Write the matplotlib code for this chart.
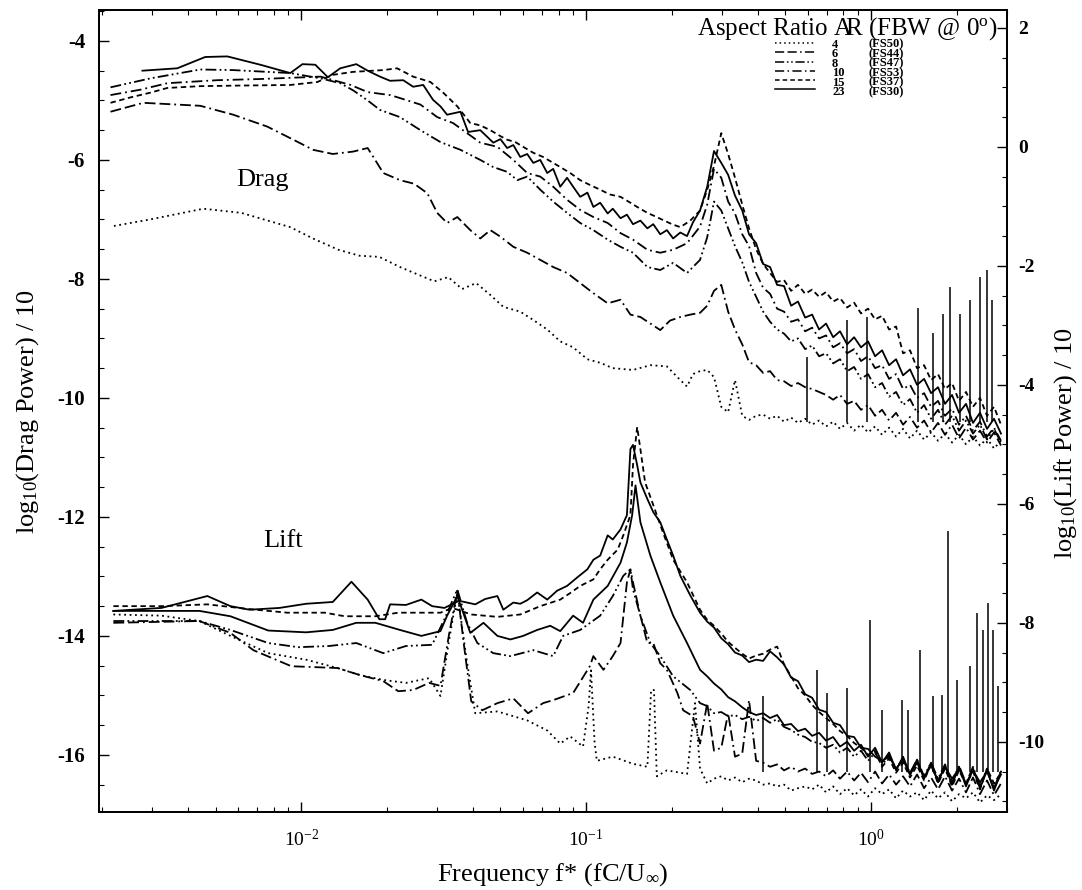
import matplotlib
matplotlib.use("Agg")
import matplotlib.pyplot as plt
from matplotlib.lines import Line2D
from matplotlib.ticker import LogLocator, MultipleLocator, NullFormatter
import numpy as np

plt.rcParams['font.family'] = ['Liberation Serif', 'DejaVu Serif']
plt.rcParams['mathtext.fontset'] = 'custom'
plt.rcParams['mathtext.rm'] = 'Liberation Serif'
plt.rcParams['mathtext.it'] = 'Liberation Serif:italic'
plt.rcParams['mathtext.bf'] = 'Liberation Serif:bold'
plt.rcParams['axes.unicode_minus'] = False

# common high-frequency grid f* (fC/U_inf) shared by all spectra above f* ~ 0.25
tail_f = [0.251, 0.266, 0.281, 0.298, 0.315, 0.333, 0.353, 0.373, 0.395, 0.418, 0.442,
          0.468, 0.495, 0.524, 0.554, 0.587, 0.621, 0.657, 0.695, 0.736, 0.778, 0.824,
          0.872, 0.922, 0.976, 1.033, 1.093, 1.157, 1.224, 1.295, 1.370, 1.450, 1.535,
          1.624, 1.718, 1.818, 1.924, 2.036, 2.154, 2.279, 2.412, 2.553, 2.701, 2.858]

ar_labels = ["4", "6", "8", "10", "15", "23"]
fs_labels = ["(FS50)", "(FS44)", "(FS47)", "(FS53)", "(FS37)", "(FS30)"]

# ---- drag spectra, log10(P)/10 (left axis) ----
drag_f_4 = [0.00220, 0.00295, 0.00453, 0.00616, 0.00915, 0.0111, 0.0135, 0.0160, 0.0188, 0.0222,
            0.0249, 0.0293, 0.0328, 0.0367, 0.0411, 0.0461, 0.0512, 0.0587, 0.0652, 0.0730,
            0.0811, 0.0900, 0.101, 0.112, 0.124, 0.146, 0.168, 0.192, 0.214, 0.226, 0.237]
drag_v_4 = [-7.11, -7.00, -6.82, -6.89, -7.13, -7.33, -7.51, -7.61, -7.63, -7.80,
            -7.90, -8.04, -7.97, -8.17, -8.07, -8.27, -8.47, -8.55, -8.69, -8.85,
            -9.05, -9.15, -9.35, -9.41, -9.50, -9.53, -9.45, -9.47, -9.70, -9.81, -9.60]
drag_tail_4 = [-9.55, -9.53, -9.65, -10.15, -10.24, -9.70, -10.30, -10.37, -10.30, -10.28, -10.35,
               -10.30, -10.40, -10.33, -10.42, -10.35, -10.45, -10.38, -10.48, -10.40, -10.52, -10.42,
               -10.55, -10.45, -10.58, -10.48, -10.62, -10.50, -10.65, -10.52, -10.68, -10.55, -10.70,
               -10.58, -10.72, -10.60, -10.75, -10.62, -10.78, -10.65, -10.80, -10.68, -10.85, -10.72]

drag_f_6 = [0.00214, 0.00279, 0.00442, 0.00577, 0.00760, 0.00938, 0.0110, 0.0129, 0.0152, 0.0171,
            0.0179, 0.0194, 0.0222, 0.0249, 0.0277, 0.0300, 0.0325, 0.0353, 0.0392, 0.0425,
            0.0461, 0.0500, 0.0555, 0.0621, 0.0690, 0.0766, 0.0857, 0.0953, 0.106, 0.119,
            0.132, 0.143, 0.155, 0.168, 0.182, 0.197, 0.214, 0.232]
drag_v_6 = [-5.19, -5.04, -5.09, -5.24, -5.44, -5.66, -5.83, -5.90, -5.86, -5.80,
            -5.95, -6.22, -6.34, -6.40, -6.56, -6.89, -7.06, -6.96, -7.18, -7.32,
            -7.18, -7.29, -7.46, -7.56, -7.68, -7.80, -7.90, -8.07, -8.24, -8.41,
            -8.35, -8.60, -8.64, -8.75, -8.86, -8.70, -8.64, -8.60]
drag_tail_6 = [-8.57, -8.45, -8.20, -8.10, -8.55, -8.85, -9.10, -9.40, -9.45, -9.58, -9.55,
               -9.70, -9.72, -9.80, -9.75, -9.82, -9.85, -9.90, -9.95, -10.03, -9.95, -10.10,
               -10.05, -10.20, -10.12, -10.30, -10.20, -10.38, -10.25, -10.45, -10.32, -10.50, -10.38,
               -10.58, -10.42, -10.62, -10.45, -10.68, -10.50, -10.70, -10.55, -10.75, -10.58, -10.80]

drag_f_8 = [0.00214, 0.00295, 0.00442, 0.00577, 0.00915, 0.0117, 0.0137, 0.0152, 0.0171, 0.0189,
            0.0222, 0.0262, 0.0308, 0.0362, 0.0425, 0.0472, 0.0528, 0.0573, 0.0621, 0.0690,
            0.0766, 0.0857, 0.0953, 0.106, 0.119, 0.132, 0.146, 0.164, 0.182, 0.202, 0.226]
drag_v_8 = [-4.78, -4.63, -4.48, -4.49, -4.54, -4.63, -4.71, -4.83, -5.00, -5.16,
            -5.28, -5.50, -5.70, -5.83, -6.00, -6.12, -6.20, -6.34, -6.28, -6.50,
            -6.70, -6.89, -7.06, -7.18, -7.34, -7.46, -7.56, -7.80, -7.85, -7.73, -7.90]
drag_tail_8 = [-7.68, -7.30, -6.70, -6.85, -7.15, -7.45, -7.72, -8.05, -8.30, -8.55, -8.72,
               -8.85, -8.92, -9.05, -9.00, -9.18, -9.12, -9.30, -9.25, -9.42, -9.35, -9.55,
               -9.48, -9.68, -9.60, -9.82, -9.75, -9.98, -9.90, -10.12, -10.02, -10.25, -10.12,
               -10.35, -10.20, -10.45, -10.30, -10.55, -10.38, -10.60, -10.45, -10.70, -10.52, -10.75]

drag_f_10 = [0.00214, 0.00272, 0.00339, 0.00507, 0.00718, 0.00915, 0.0117, 0.0149, 0.0171, 0.0205,
             0.0222, 0.0262, 0.0300, 0.0341, 0.0382, 0.0425, 0.0488, 0.0555, 0.0621, 0.0690,
             0.0766, 0.0857, 0.0953, 0.106, 0.119, 0.132, 0.146, 0.164, 0.182, 0.202, 0.226]
drag_v_10 = [-4.91, -4.82, -4.71, -4.66, -4.64, -4.62, -4.60, -4.74, -4.86, -4.91,
             -4.96, -5.07, -5.28, -5.38, -5.55, -5.71, -5.78, -6.00, -6.22, -6.28,
             -6.45, -6.67, -6.84, -6.96, -7.06, -7.23, -7.34, -7.51, -7.56, -7.51, -7.40]
drag_tail_10 = [-7.12, -6.75, -6.15, -6.30, -6.70, -6.90, -7.25, -7.45, -7.90, -8.15, -8.25,
                -8.50, -8.55, -8.72, -8.68, -8.88, -8.82, -9.00, -8.95, -9.15, -9.08, -9.25,
                -9.18, -9.38, -9.30, -9.50, -9.45, -9.68, -9.60, -9.85, -9.78, -10.00, -9.92,
                -10.15, -10.05, -10.30, -10.18, -10.45, -10.30, -10.55, -10.40, -10.65, -10.50, -10.72]

drag_f_15 = [0.00214, 0.00251, 0.00295, 0.00339, 0.00442, 0.00611, 0.00915, 0.0114, 0.0129, 0.0152,
             0.0194, 0.0217, 0.0247, 0.0284, 0.0315, 0.0353, 0.0392, 0.0425, 0.0461, 0.0500,
             0.0528, 0.0564, 0.0601, 0.0652, 0.0706, 0.0766, 0.0811, 0.0879, 0.0953, 0.103,
             0.112, 0.121, 0.132, 0.143, 0.151, 0.164, 0.175, 0.186, 0.200, 0.214, 0.232]
drag_v_15 = [-5.04, -4.95, -4.87, -4.79, -4.76, -4.75, -4.74, -4.69, -4.57, -4.52,
             -4.49, -4.46, -4.60, -4.69, -4.87, -5.10, -5.38, -5.42, -5.50, -5.60,
             -5.66, -5.70, -5.78, -5.88, -5.95, -6.05, -6.12, -6.22, -6.34, -6.42,
             -6.50, -6.58, -6.62, -6.72, -6.79, -6.89, -6.95, -7.01, -7.08, -7.13, -7.02]
drag_tail_15 = [-6.85, -6.50, -6.10, -5.55, -5.90, -6.30, -6.75, -7.15, -7.50, -7.75, -7.90,
                -8.05, -8.02, -8.20, -8.10, -8.25, -8.18, -8.30, -8.22, -8.38, -8.32, -8.48,
                -8.40, -8.58, -8.50, -8.68, -8.62, -8.85, -8.80, -9.25, -9.20, -9.50, -9.45,
                -9.70, -9.60, -9.85, -9.75, -10.05, -9.90, -10.15, -10.00, -10.30, -10.15, -10.45]

drag_f_23 = [0.00277, 0.00367, 0.00460, 0.00550, 0.00718, 0.00915, 0.0101, 0.0112, 0.0124, 0.0137,
             0.0156, 0.0171, 0.0189, 0.0205, 0.0228, 0.0247, 0.0268, 0.0290, 0.0308, 0.0325,
             0.0362, 0.0385, 0.0425, 0.0472, 0.0500, 0.0528, 0.0555, 0.0587, 0.0621, 0.0652,
             0.0690, 0.0730, 0.0766, 0.0811, 0.0857, 0.0900, 0.0953, 0.101, 0.106, 0.112,
             0.119, 0.124, 0.132, 0.139, 0.146, 0.155, 0.164, 0.172, 0.182, 0.192,
             0.202, 0.214, 0.226, 0.237]
drag_v_23 = [-4.50, -4.46, -4.27, -4.26, -4.40, -4.54, -4.39, -4.40, -4.61, -4.46,
             -4.39, -4.50, -4.60, -4.67, -4.66, -4.77, -4.74, -4.99, -5.10, -5.24,
             -5.19, -5.53, -5.50, -5.71, -5.65, -5.80, -5.75, -5.95, -5.90, -6.05,
             -6.00, -6.22, -6.15, -6.45, -6.30, -6.45, -6.62, -6.55, -6.79, -6.72,
             -6.90, -6.82, -6.98, -6.92, -7.08, -7.02, -7.15, -7.08, -7.25, -7.18,
             -7.32, -7.22, -7.28, -7.05]
drag_tail_23 = [-6.85, -6.45, -5.85, -6.05, -6.25, -6.60, -6.85, -7.25, -7.40, -7.75, -7.80,
                -8.10, -8.12, -8.45, -8.38, -8.65, -8.60, -8.85, -8.75, -8.98, -8.88, -9.10,
                -8.98, -9.15, -9.05, -9.30, -9.20, -9.45, -9.35, -9.62, -9.52, -9.78, -9.68,
                -9.92, -9.82, -10.10, -9.95, -10.25, -10.10, -10.42, -10.25, -10.52, -10.35, -10.60]

# narrow spikes in the drag spectra at high frequency
drag_spike_f = [0.596, 0.824, 0.968, 1.462, 1.650, 1.789, 1.893, 2.050, 2.225, 2.412, 2.553, 2.658]
drag_spike_top = [-9.31, -8.69, -8.64, -8.49, -8.91, -8.59, -8.13, -8.59, -8.35, -7.97, -7.85, -8.35]
drag_spike_base = -10.4

# ---- lift spectra, log10(P)/10 (right axis) ----
lift_f_4 = [0.00219, 0.00323, 0.00439, 0.00564, 0.00766, 0.0104, 0.0134, 0.0161, 0.0194, 0.0233,
            0.0281, 0.0308, 0.0330, 0.0353, 0.0380, 0.0408, 0.0488, 0.0555, 0.0621, 0.0730,
            0.0811, 0.0879, 0.0975, 0.102, 0.104, 0.107, 0.109, 0.124, 0.146, 0.164,
            0.169, 0.173, 0.177, 0.192, 0.226, 0.241]
lift_v_4 = [-7.86, -7.88, -7.97, -8.22, -8.51, -8.62, -8.76, -8.88, -8.96, -9.01,
            -8.93, -9.23, -8.30, -7.49, -8.60, -9.52, -9.49, -9.57, -9.64, -9.81,
            -10.03, -9.91, -10.08, -9.40, -8.80, -10.00, -10.32, -10.25, -10.37, -10.42,
            -9.13, -9.13, -10.58, -10.48, -10.54, -9.35]
lift_tail_4 = [-10.45, -10.70, -10.62, -10.58, -10.65, -10.60, -10.68, -10.62, -10.65, -10.72, -10.70,
               -10.75, -10.72, -10.82, -10.78, -10.75, -10.80, -10.72, -10.85, -10.75, -10.88, -10.78,
               -10.90, -10.80, -10.92, -10.78, -10.88, -10.80, -10.95, -10.82, -10.92, -10.85, -10.98,
               -10.82, -10.95, -10.85, -11.00, -10.88, -10.95, -10.85, -11.02, -10.90, -10.98, -10.88]

lift_f_6 = [0.00219, 0.00439, 0.00564, 0.00679, 0.00923, 0.0134, 0.0161, 0.0194, 0.0219, 0.0247,
            0.0281, 0.0308, 0.0330, 0.0353, 0.0373, 0.0395, 0.0432, 0.0488, 0.0555, 0.0625,
            0.0706, 0.0766, 0.0900, 0.103, 0.106, 0.115, 0.124, 0.132, 0.139, 0.143,
            0.146, 0.155, 0.164, 0.172, 0.182, 0.192, 0.209, 0.219, 0.237]
lift_v_6 = [-8.00, -7.97, -8.17, -8.46, -8.73, -8.76, -8.88, -8.98, -9.15, -9.13,
            -9.01, -9.06, -8.20, -7.46, -8.40, -9.32, -9.47, -9.35, -9.27, -9.52,
            -9.35, -9.30, -9.18, -8.73, -8.56, -8.79, -8.56, -8.34, -7.32, -7.10,
            -7.32, -7.88, -8.34, -8.34, -8.68, -8.79, -9.18, -9.47, -9.57]
lift_tail_6 = [-10.03, -9.35, -10.15, -10.10, -9.52, -10.25, -10.20, -9.30, -10.32, -10.35, -10.42,
               -10.38, -10.48, -10.42, -10.50, -10.45, -10.54, -10.50, -10.58, -10.48, -10.62, -10.50,
               -10.65, -10.52, -10.68, -10.50, -10.70, -10.55, -10.72, -10.58, -10.75, -10.55, -10.78,
               -10.60, -10.80, -10.58, -10.82, -10.62, -10.85, -10.60, -10.88, -10.65, -10.90, -10.70]

lift_f_8 = [0.00219, 0.00439, 0.00564, 0.00766, 0.00976, 0.0125, 0.0156, 0.0194, 0.0233, 0.0288,
            0.0318, 0.0353, 0.0382, 0.0415, 0.0472, 0.0542, 0.0652, 0.0766, 0.0830, 0.0953,
            0.112, 0.124, 0.135, 0.143, 0.146, 0.155, 0.168, 0.182, 0.202, 0.232]
lift_v_8 = [-7.97, -7.97, -8.12, -8.34, -8.41, -8.39, -8.34, -8.51, -8.39, -8.37,
            -7.94, -7.44, -8.00, -8.34, -8.51, -8.56, -8.46, -8.56, -8.22, -8.12,
            -7.88, -7.55, -7.21, -7.10, -7.44, -7.88, -8.34, -8.56, -8.90, -9.13]
lift_tail_8 = [-9.35, -9.40, -9.52, -9.50, -9.57, -9.55, -9.62, -9.58, -9.65, -9.60, -9.68,
               -9.62, -9.75, -9.80, -9.88, -9.92, -10.00, -10.02, -10.10, -10.05, -10.18, -10.10,
               -10.25, -10.15, -10.32, -10.18, -10.40, -10.22, -10.45, -10.28, -10.52, -10.30, -10.58,
               -10.35, -10.62, -10.38, -10.68, -10.40, -10.70, -10.42, -10.75, -10.45, -10.78, -10.48]

lift_f_10 = [0.00219, 0.00439, 0.00564, 0.00766, 0.0104, 0.0129, 0.0156, 0.0182, 0.0222, 0.0264,
             0.0308, 0.0325, 0.0353, 0.0392, 0.0436, 0.0488, 0.0542, 0.0601, 0.0673, 0.0748,
             0.0811, 0.0900, 0.0975, 0.106, 0.119, 0.132, 0.139, 0.145, 0.149, 0.155,
             0.168, 0.182, 0.202, 0.226]
lift_v_10 = [-7.80, -7.80, -7.89, -8.13, -8.16, -8.12, -8.00, -8.00, -8.12, -8.22,
             -8.14, -7.88, -7.55, -8.17, -8.00, -8.22, -8.28, -8.22, -8.12, -8.05,
             -8.14, -7.88, -8.00, -7.61, -7.38, -6.99, -6.65, -6.19, -5.69, -6.31,
             -6.87, -7.32, -7.88, -8.34]
lift_tail_10 = [-8.79, -8.90, -9.02, -9.12, -9.25, -9.32, -9.42, -9.50, -9.55, -9.52, -9.60,
                -9.55, -9.72, -9.70, -9.82, -9.78, -9.90, -9.85, -9.98, -9.92, -10.08, -10.00,
                -10.15, -10.05, -10.25, -10.10, -10.35, -10.18, -10.48, -10.25, -10.55, -10.30, -10.62,
                -10.35, -10.68, -10.40, -10.72, -10.42, -10.75, -10.45, -10.78, -10.48, -10.82, -10.50]

lift_f_15 = [0.00219, 0.00323, 0.00468, 0.00658, 0.00893, 0.0121, 0.0142, 0.0182, 0.0219, 0.0308,
             0.0339, 0.0395, 0.0488, 0.0587, 0.0690, 0.0811, 0.0879, 0.0953, 0.106, 0.112,
             0.119, 0.129, 0.135, 0.143, 0.146, 0.151, 0.155, 0.161, 0.172, 0.186,
             0.202, 0.226]
lift_v_15 = [-7.72, -7.72, -7.69, -7.77, -7.83, -7.83, -7.89, -7.89, -7.83, -7.83,
             -7.75, -7.86, -7.90, -7.86, -7.72, -7.61, -7.50, -7.38, -7.27, -7.10,
             -6.94, -6.77, -6.53, -6.19, -5.35, -4.71, -5.08, -5.64, -6.02, -6.48,
             -6.94, -7.32]
lift_tail_15 = [-7.78, -7.95, -8.05, -8.18, -8.32, -8.42, -8.52, -8.60, -8.55, -8.52, -8.45,
                -8.40, -8.70, -8.90, -9.10, -9.22, -9.38, -9.50, -9.60, -9.70, -9.82, -9.90,
                -10.02, -10.10, -10.22, -10.15, -10.42, -10.28, -10.52, -10.35, -10.60, -10.40, -10.65,
                -10.38, -10.70, -10.45, -10.75, -10.48, -10.72, -10.50, -10.80, -10.45, -10.70, -10.52]

lift_f_23 = [0.00219, 0.00323, 0.00468, 0.00564, 0.00658, 0.00838, 0.0104, 0.0129, 0.0150, 0.0171,
             0.0188, 0.0197, 0.0205, 0.0233, 0.0264, 0.0288, 0.0318, 0.0358, 0.0408, 0.0442,
             0.0488, 0.0512, 0.0555, 0.0587, 0.0621, 0.0673, 0.0730, 0.0791, 0.0857, 0.0929,
             0.101, 0.106, 0.112, 0.119, 0.124, 0.132, 0.139, 0.143, 0.146, 0.151,
             0.155, 0.164, 0.172, 0.182, 0.192, 0.202, 0.214, 0.232]
lift_v_23 = [-7.80, -7.75, -7.55, -7.72, -7.78, -7.75, -7.68, -7.65, -7.31, -7.61,
             -7.94, -7.94, -7.69, -7.70, -7.61, -7.72, -7.75, -7.63, -7.69, -7.60,
             -7.55, -7.78, -7.66, -7.68, -7.62, -7.49, -7.61, -7.46, -7.38, -7.24,
             -7.10, -6.94, -6.87, -6.53, -6.60, -6.43, -6.19, -5.08, -5.01, -5.35,
             -5.64, -5.92, -6.14, -6.31, -6.60, -6.87, -7.21, -7.54]
lift_tail_23 = [-7.83, -7.98, -8.08, -8.26, -8.36, -8.50, -8.55, -8.66, -8.62, -8.64, -8.48,
                -8.58, -8.70, -8.92, -8.98, -9.20, -9.26, -9.46, -9.50, -9.68, -9.72, -9.90,
                -9.92, -10.10, -10.12, -10.25, -10.32, -10.25, -10.45, -10.30, -10.55, -10.35, -10.60,
                -10.40, -10.65, -10.42, -10.62, -10.45, -10.70, -10.48, -10.68, -10.50, -10.78, -10.55]

lift_spike_f = [0.418, 0.647, 0.701, 0.824, 0.992, 1.093, 1.285, 1.348, 1.485, 1.650,
                1.775, 1.863, 2.004, 2.225, 2.355, 2.471, 2.574, 2.680, 2.790]
lift_spike_top = [-9.23, -8.79, -9.18, -9.10, -7.95, -9.47, -9.30, -9.47, -8.46, -9.23,
                  -9.21, -6.45, -8.96, -8.73, -7.83, -8.12, -7.66, -8.12, -9.06]
lift_spike_base = -10.5

styles = {
    "4": (0, (1, 2.0)),
    "6": (0, (6, 2.2, 6, 2.2, 1, 2.2)),
    "8": (0, (6, 1.8, 1, 1.8, 1, 1.8)),
    "10": (0, (6, 2.2, 1, 2.2)),
    "15": (0, (3, 2)),
    "23": "-",
}

drag = {
    "4": (drag_f_4, drag_v_4, drag_tail_4),
    "6": (drag_f_6, drag_v_6, drag_tail_6),
    "8": (drag_f_8, drag_v_8, drag_tail_8),
    "10": (drag_f_10, drag_v_10, drag_tail_10),
    "15": (drag_f_15, drag_v_15, drag_tail_15),
    "23": (drag_f_23, drag_v_23, drag_tail_23),
}
lift = {
    "4": (lift_f_4, lift_v_4, lift_tail_4),
    "6": (lift_f_6, lift_v_6, lift_tail_6),
    "8": (lift_f_8, lift_v_8, lift_tail_8),
    "10": (lift_f_10, lift_v_10, lift_tail_10),
    "15": (lift_f_15, lift_v_15, lift_tail_15),
    "23": (lift_f_23, lift_v_23, lift_tail_23),
}

fig = plt.figure(figsize=(10.82, 8.90), dpi=100)
ax = fig.add_axes([99 / 1082, 1 - 812 / 890, 908 / 1082, 802 / 890])
ax2 = ax.twinx()

lw = 1.3
for k, (f, v, t) in drag.items():
    ax.plot(f + tail_f, v + t, color="black", lw=lw, linestyle=styles[k])
for k, (f, v, t) in lift.items():
    # the AR 10 lift trace prints as a continuous line in the original
    ls = "-" if k == "10" else styles[k]
    ax2.plot(f + tail_f, v + t, color="black", lw=lw, linestyle=ls)

ax.vlines(drag_spike_f, drag_spike_base, drag_spike_top, color="black", lw=1.1)
ax2.vlines(lift_spike_f, lift_spike_base, lift_spike_top, color="black", lw=1.1)

ax.set_xscale("log")
ax.set_xlim(0.00195, 3.0)
ax.set_ylim(-16.96, -3.48)
ax2.set_ylim(-11.18, 2.30)

ax.xaxis.set_major_locator(LogLocator(base=10, numticks=10))
ax.xaxis.set_minor_locator(LogLocator(base=10, subs=np.arange(2, 10), numticks=20))
ax.xaxis.set_minor_formatter(NullFormatter())

left_ticks = [-16, -14, -12, -10, -8, -6, -4]
right_ticks = [-10, -8, -6, -4, -2, 0, 2]
ax.set_yticks(left_ticks, labels=[str(t) for t in left_ticks], fontweight="bold", fontsize=15)
ax2.set_yticks(right_ticks, labels=[str(t) for t in right_ticks], fontweight="bold", fontsize=14)
ax.yaxis.set_minor_locator(MultipleLocator(0.5))
ax2.yaxis.set_minor_locator(MultipleLocator(0.5))

ax.tick_params(axis="x", which="both", direction="in", top=True, bottom=True, labelsize=14, pad=12)
ax.tick_params(axis="x", which="major", length=7, width=1)
ax.tick_params(axis="x", which="minor", length=3.5, width=0.8)
ax.tick_params(axis="y", which="both", direction="in", right=False, pad=10)
ax.tick_params(axis="y", which="major", length=7, width=1)
ax.tick_params(axis="y", which="minor", length=3.5, width=0.8)
ax2.tick_params(axis="y", which="both", direction="in", pad=8)
ax2.tick_params(axis="y", which="major", length=7, width=1)
ax2.tick_params(axis="y", which="minor", length=3.5, width=0.8)

for a in (ax, ax2):
    for s in a.spines.values():
        s.set_linewidth(1.3)

ax.set_xlabel(r"Frequency f* (fC/U$_{\infty}$)", fontsize=19, labelpad=8)
ax.set_ylabel(r"log$_{10}$(Drag Power) / 10", fontsize=19, labelpad=12)
ax2.set_ylabel(r"log$_{10}$(Lift Power) / 10", fontsize=19)
ax2.yaxis.set_label_coords(1.0496, 0.46)

ax.text(0.1795, 0.788, "Drag", transform=ax.transAxes, ha="center", va="center", fontsize=19)
ax.text(0.2026, 0.338, "Lift", transform=ax.transAxes, ha="center", va="center", fontsize=19)

ax2.text(0.989, 0.969, r"Aspect Ratio $\mathrm{A\!\!R}$ (FBW @ 0$^{\mathrm{o}}$)",
         transform=ax2.transAxes, ha="right", va="baseline", fontsize=18)

# legend: line keys from matplotlib's legend, the two text columns as multi-line texts
leg_size = 9
leg_top = 0.9643
handles = [Line2D([], [], color="black", lw=1.1, linestyle=styles[k]) for k in ar_labels]
ax2.legend(handles, [""] * len(handles), loc="upper left", bbox_to_anchor=(0.7445, leg_top),
           frameon=False, prop={"family": "Liberation Serif", "size": leg_size},
           handlelength=3.2, handletextpad=0, labelspacing=-0.23, borderpad=0, borderaxespad=0)
ax2.text(0.8073, leg_top, "\n".join(ar_labels), transform=ax2.transAxes, ha="left", va="top",
         fontsize=leg_size, fontweight="bold", linespacing=0.72)
ax2.text(0.847, leg_top, "\n".join(fs_labels), transform=ax2.transAxes, ha="left", va="top",
         fontsize=leg_size, fontweight="bold", linespacing=0.72)

fig.savefig("out.png", dpi=100)
